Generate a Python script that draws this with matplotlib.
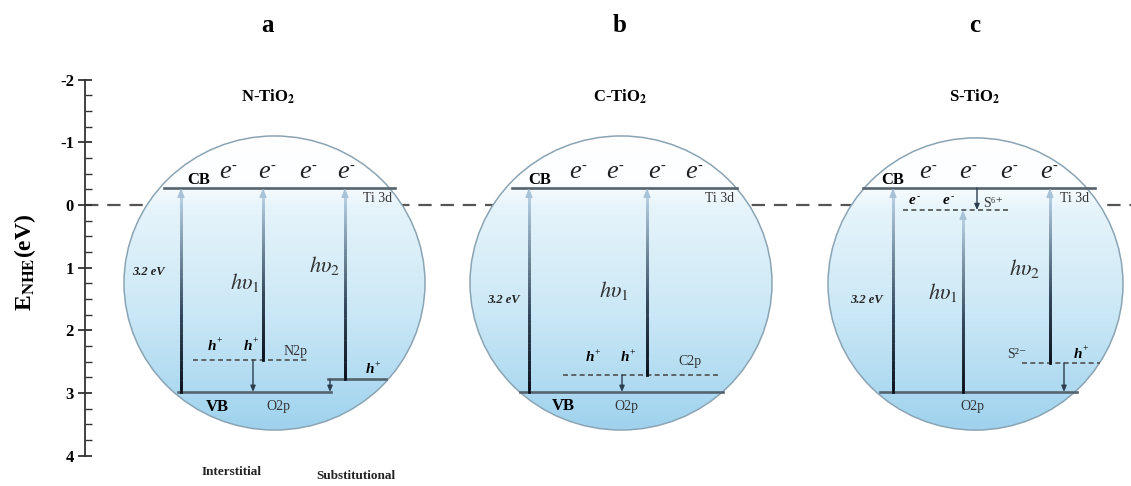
import matplotlib
matplotlib.use('Agg')
import matplotlib.pyplot as plt
import numpy as np
from matplotlib.patches import Ellipse
from matplotlib.collections import LineCollection
from matplotlib.colors import LinearSegmentedColormap
from matplotlib.ticker import FixedLocator

plt.rcParams['font.family'] = ['Liberation Serif', 'DejaVu Serif']
plt.rcParams['mathtext.fontset'] = 'stix'
plt.rcParams['axes.unicode_minus'] = False

# TiO2 band edges vs NHE (eV)
cb_edge = -0.27
vb_edge = 2.98
# dopant states (eV)
n2p_level = 2.47      # interstitial N
n_sub_level = 2.78    # substitutional N
c2p_level = 2.71
s6_level = 0.08
s2_level = 2.52

panel_letters = ['a', 'b', 'c']
panel_titles = ['N-TiO$_\\mathbf{2}$', 'C-TiO$_\\mathbf{2}$', 'S-TiO$_\\mathbf{2}$']
y_ticks = [-2, -1, 0, 1, 2, 3, 4]

fig = plt.figure(figsize=(11.31, 4.86), dpi=100)
ax = fig.add_axes([0, 0, 1, 1])

sky = LinearSegmentedColormap.from_list(
    'sky', [(0, '#ffffff'), (0.16, '#fcfeff'), (0.24, '#e6f4fb'),
            (0.6, '#cbe8f6'), (1, '#9fd2ee')])
beam = LinearSegmentedColormap.from_list(
    'beam', [(0, '#0b111b'), (0.4, '#33475a'), (1, '#b5cfe2')])

# zero line of the NHE scale
ax.plot([85, 1131], [0, 0], ls=(0, (6, 4)), color='#555555', lw=1.6, zorder=1)

# the three band-diagram discs
discs = [(274.5, 1.244, 301, 4.69), (621, 1.244, 302, 4.69), (975.5, 1.26, 295, 4.66)]
for cx, cy, w, h in discs:
    base = Ellipse((cx, cy), w, h, facecolor='white', edgecolor='none', zorder=2)
    ax.add_patch(base)
    grad = np.linspace(0, 1, 256).reshape(-1, 1)
    im = ax.imshow(grad, cmap=sky, aspect='auto', origin='lower',
                   extent=(cx - w / 2, cx + w / 2, cy - h / 2, cy + h / 2), zorder=2)
    im.set_clip_path(base)
    ax.add_patch(Ellipse((cx, cy), w, h, facecolor='none', edgecolor='#8ba4b4',
                         lw=1.1, zorder=3))


def level(x0, x1, e, dashed=False):
    if dashed:
        ax.plot([x0, x1], [e, e], ls=(0, (3, 2)), color='#505050', lw=1.2, zorder=4)
    else:
        ax.plot([x0, x1], [e, e], color='#55636f', lw=1.9, zorder=4)


def transition(x, e_low, e_high):
    ys = np.linspace(e_low, e_high + 0.09, 60)
    pts = np.column_stack([np.full_like(ys, x), ys])
    segs = np.stack([pts[:-1], pts[1:]], axis=1)
    lc = LineCollection(segs, cmap=beam, linewidths=2.0, zorder=5, capstyle='projecting')
    lc.set_array(np.linspace(0, 1, len(segs)))
    ax.add_collection(lc)
    ax.annotate('', xy=(x, e_high), xytext=(x, e_high + 0.12),
                arrowprops=dict(arrowstyle='-|>,head_length=0.5,head_width=0.2',
                                color='#a8c3d8', lw=1.2, shrinkA=0, shrinkB=0),
                zorder=6)


def relax(x, e_from, e_to):
    ax.annotate('', xy=(x, e_to), xytext=(x, e_from),
                arrowprops=dict(arrowstyle='-|>,head_length=0.35,head_width=0.15',
                                color='#2b3d4f', lw=1.0, shrinkA=0, shrinkB=0),
                zorder=6)


def carrier(x, e, sign, size=11, bold=True, color='black', dx=7, rise=0.09):
    ax.text(x, e, 'h' if sign == '+' else 'e', style='italic',
            weight='bold' if bold else 'normal', color=color,
            fontsize=size, ha='center', va='center', zorder=7)
    ax.text(x + dx, e - rise, sign, fontsize=max(7, size * 0.55), color=color,
            ha='center', va='center', zorder=7)


def label(x, e, s, **kw):
    opts = dict(ha='center', va='center', fontsize=10, color='#333333', zorder=7)
    opts.update(kw)
    ax.text(x, e, s, **opts)


centres = [268, 620, 975]
for i in range(3):
    label(centres[i], -2.87, panel_letters[i], fontsize=18, weight='bold', color='black')
    label(centres[i], -1.72, panel_titles[i], fontsize=12, weight='bold', color='black')

# conduction band with electrons (all panels)
cb_spans = [(164, 395), (512, 737), (863, 1095)]
cb_text_x = [199, 540, 893]
e_xs = [[225, 264, 305, 343], [575, 612, 654, 691], [925, 965, 1006, 1046]]
ti_x = [378, 720, 1075]
for i in range(3):
    level(*cb_spans[i], cb_edge)
    label(cb_text_x[i], cb_edge - 0.13, 'CB', fontsize=12, weight='bold', color='black')
    for x in e_xs[i]:
        carrier(x, cb_edge - 0.25, '-', size=19, bold=False, color='#222222',
                dx=9, rise=0.1)
    label(ti_x[i], cb_edge + 0.17, 'Ti 3d', fontsize=10)

# panel a: N-TiO2
level(178, 331, vb_edge)
level(193, 308, n2p_level, dashed=True)
level(328, 386, n_sub_level)
transition(181, vb_edge, cb_edge)
transition(263, n2p_level, cb_edge)
transition(345, n_sub_level, cb_edge)
relax(253, n2p_level, vb_edge)
relax(330, n_sub_level, vb_edge)
label(148, 1.07, '3.2 eV', fontsize=9, style='italic', weight='bold', color='#222222')
label(245, 1.24, '$h\\upsilon_1$', fontsize=16, color='#333333')
label(325, 0.97, '$h\\upsilon_2$', fontsize=16, color='#333333')
carrier(212, 2.26, '+')
carrier(248, 2.26, '+')
label(296, 2.34, 'N2p', fontsize=10)
carrier(370, 2.63, '+')
label(217, 3.22, 'VB', fontsize=12, weight='bold', color='black')
label(278, 3.22, 'O2p', fontsize=10)
label(232, 4.26, 'Interstitial', fontsize=9.5, weight='bold', color='#222222')
label(356, 4.32, 'Substitutional', fontsize=9.5, weight='bold', color='#222222')

# panel b: C-TiO2
level(520, 723, vb_edge)
level(563, 718, c2p_level, dashed=True)
transition(529, vb_edge, cb_edge)
transition(647, c2p_level, cb_edge)
relax(622, c2p_level, vb_edge)
label(503, 1.52, '3.2 eV', fontsize=9, style='italic', weight='bold', color='#222222')
label(614, 1.36, '$h\\upsilon_1$', fontsize=16, color='#333333')
carrier(590, 2.44, '+')
carrier(625, 2.44, '+')
label(690, 2.50, 'C2p', fontsize=10)
label(563, 3.21, 'VB', fontsize=12, weight='bold', color='black')
label(626, 3.22, 'O2p', fontsize=10)

# panel c: S-TiO2
level(880, 1077, vb_edge)
level(903, 1008, s6_level, dashed=True)
level(1022, 1100, s2_level, dashed=True)
transition(893, vb_edge, cb_edge)
transition(963, vb_edge, s6_level)
transition(1050, s2_level, cb_edge)
relax(977, cb_edge, s6_level)
relax(1064, s2_level, vb_edge)
carrier(912, -0.07, '-', size=11, dx=6, rise=0.07)
carrier(946, -0.07, '-', size=11, dx=6, rise=0.07)
label(983, -0.02, 'S⁶⁺', fontsize=10, ha='left')
label(866, 1.52, '3.2 eV', fontsize=9, style='italic', weight='bold', color='#222222')
label(943, 1.40, '$h\\upsilon_1$', fontsize=16, color='#333333')
label(1025, 1.02, '$h\\upsilon_2$', fontsize=16, color='#333333')
label(1017, 2.38, 'S²⁻', fontsize=10)
carrier(1078, 2.38, '+')
label(972, 3.21, 'O2p', fontsize=10)

# energy axis
ax.set_xlim(0, 1131)
ax.set_ylim(4.4817, -3.2695)
for side in ['top', 'right', 'bottom']:
    ax.spines[side].set_visible(False)
ax.spines['left'].set_position(('data', 85))
ax.spines['left'].set_bounds(-2, 4)
ax.spines['left'].set_color('#333333')
ax.spines['left'].set_linewidth(1.3)
ax.xaxis.set_visible(False)
ax.set_yticks(y_ticks)
ax.set_yticklabels([str(t) for t in y_ticks])
minor = [v for v in np.arange(-2, 4.01, 0.25) if v % 1 != 0]
ax.yaxis.set_minor_locator(FixedLocator(minor))
ax.tick_params(axis='y', which='major', direction='inout', length=10, width=1.3,
               labelsize=12, pad=3, color='#333333')
ax.tick_params(axis='y', which='minor', direction='in', length=5, width=1.0, color='#333333')
for t in ax.get_yticklabels():
    t.set_fontweight('bold')
ax.patch.set_alpha(0)
ax.text(25, 0.91, 'E$_{\\mathbf{NHE}}$(eV)', rotation=90, ha='center', va='center',
        fontsize=17, weight='bold')

fig.savefig('out.png', dpi=100)
